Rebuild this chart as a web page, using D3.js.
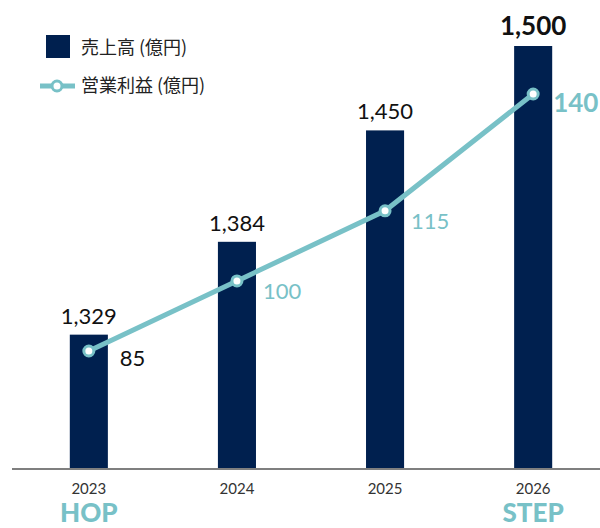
<!DOCTYPE html>
<html>
<head>
<meta charset="utf-8">
<script src="https://cdn.jsdelivr.net/npm/d3@7"></script>
<style>
  body { margin: 0; background: #fff; }
  text { font-family: Lato, "Noto Sans CJK JP", sans-serif; }
  .jp { font-family: "Noto Sans CJK JP", sans-serif; }
</style>
</head>
<body>
<svg id="vis" width="600" height="528"></svg>
<script>
// data
var years = ['2023', '2024', '2025', '2026'];
var sales = [1329, 1384, 1450, 1500];
var profit = [85, 100, 115, 140];
var phases = ['HOP', '', '', 'STEP'];

var navy = '#00204f';
var teal = '#78c1c7';

var svg = d3.select('#vis');
var baseY = 468;

var x = d3.scaleBand()
    .domain(years)
    .range([15, 607])
    .paddingInner(0.743)
    .paddingOuter(0.37);

// bar scale starts at 1250, line scale independent
var yBar = d3.scaleLinear().domain([1250, 1500]).range([baseY, 46]);
var yLine = d3.scaleLinear().domain([85, 140]).range([351, 94]);

function cx(d) { return x(d) + x.bandwidth() / 2; }

// bars
svg.selectAll('.bar')
    .data(years)
    .enter()
    .append('rect')
    .attr('class', 'bar')
    .attr('x', function(d) { return x(d); })
    .attr('width', x.bandwidth())
    .attr('y', function(d, i) { return yBar(sales[i]); })
    .attr('height', function(d, i) { return baseY - yBar(sales[i]); })
    .attr('fill', navy);

// axis line
svg.append('line')
    .attr('x1', 12).attr('x2', 600)
    .attr('y1', baseY + 1).attr('y2', baseY + 1)
    .attr('stroke', '#555').attr('stroke-width', 1.5);

// bar value labels
svg.selectAll('.sales-label')
    .data(years)
    .enter()
    .append('text')
    .attr('x', cx)
    .attr('y', function(d, i) { return yBar(sales[i]) - 11; })
    .attr('text-anchor', 'middle')
    .attr('font-size', function(d, i) { return i == 3 ? 26 : 22; })
    .attr('font-weight', function(d, i) { return i == 3 ? 'bold' : 'normal'; })
    .attr('fill', '#111')
    .text(function(d, i) { return d3.format(',')(sales[i]); });

// line
var line = d3.line()
    .x(function(d, i) { return cx(years[i]); })
    .y(function(d) { return yLine(d); });

svg.append('path')
    .datum(profit)
    .attr('d', line)
    .attr('fill', 'none')
    .attr('stroke', teal)
    .attr('stroke-width', 5);

svg.selectAll('.dot')
    .data(profit)
    .enter()
    .append('circle')
    .attr('cx', function(d, i) { return cx(years[i]); })
    .attr('cy', function(d) { return yLine(d); })
    .attr('r', 5)
    .attr('fill', '#fff')
    .attr('stroke', teal)
    .attr('stroke-width', 3);

svg.selectAll('.profit-label')
    .data(profit)
    .enter()
    .append('text')
    .attr('x', function(d, i) { return cx(years[i]) + (i == 3 ? 20 : (i == 0 ? 31 : 26)); })
    .attr('y', function(d, i) { return yLine(d) + (i == 0 ? 15 : 18); })
    .attr('font-size', function(d, i) { return i == 3 ? 26 : 22; })
    .attr('font-weight', function(d, i) { return i == 3 ? 'bold' : 'normal'; })
    .attr('fill', function(d, i) { return i == 0 ? '#111' : teal; })
    .text(function(d) { return d; });

// year labels + phase labels
svg.selectAll('.year')
    .data(years)
    .enter()
    .append('text')
    .attr('x', cx)
    .attr('y', 494)
    .attr('text-anchor', 'middle')
    .attr('font-size', 15)
    .attr('fill', '#333')
    .text(function(d) { return d; });

svg.selectAll('.phase')
    .data(years)
    .enter()
    .append('text')
    .attr('x', cx)
    .attr('y', 522)
    .attr('text-anchor', 'middle')
    .attr('font-size', 26)
    .attr('font-weight', 900)
    .attr('fill', teal)
    .text(function(d, i) { return phases[i]; });

// legend
var legend = svg.append('g');
legend.append('rect')
    .attr('x', 46).attr('y', 35)
    .attr('width', 24).attr('height', 23)
    .attr('fill', navy);
legend.append('text')
    .attr('class', 'jp')
    .attr('x', 81).attr('y', 54)
    .attr('font-size', 18)
    .attr('fill', '#222')
    .text('売上高 (億円)');
legend.append('line')
    .attr('x1', 40).attr('x2', 75)
    .attr('y1', 86).attr('y2', 86)
    .attr('stroke', teal).attr('stroke-width', 5);
legend.append('circle')
    .attr('cx', 57).attr('cy', 86).attr('r', 5)
    .attr('fill', '#fff').attr('stroke', teal).attr('stroke-width', 3);
legend.append('text')
    .attr('class', 'jp')
    .attr('x', 81).attr('y', 92)
    .attr('font-size', 18)
    .attr('fill', '#222')
    .text('営業利益 (億円)');
</script>
</body>
</html>
